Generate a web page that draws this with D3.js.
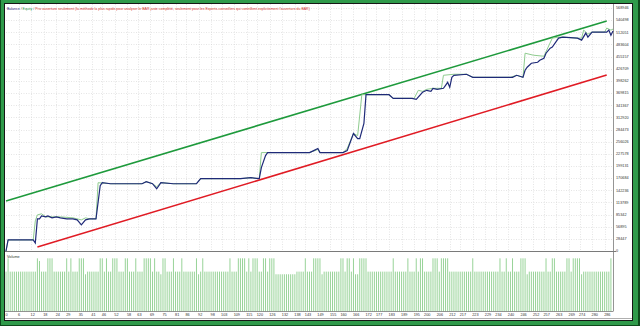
<!DOCTYPE html>
<html>
<head>
<meta charset="utf-8">
<script src="https://cdn.jsdelivr.net/npm/d3@7"></script>
<style>
  html, body { margin: 0; padding: 0; background: #fff; }
  svg { display: block; }
</style>
</head>
<body>
<svg id="chart"></svg>
<script>
// trade number / balance (vertices)
const balanceIdx = [0, 1, 13, 14, 15, 16, 17, 19, 20, 22, 24, 26, 29, 32, 34, 36, 38, 40, 43, 45,
  46, 50, 59, 65, 67, 70, 72, 74, 80, 91, 93, 112, 117, 121, 122, 124, 125, 145, 147, 149,
  150, 161, 163, 166, 168, 169, 171, 172, 183, 185, 194, 196, 199, 201, 203, 204, 206, 209, 210, 211,
  212, 213, 214, 220, 223, 241, 242, 244, 247, 248, 249, 251, 254, 255, 257, 258, 260, 261, 264, 266,
  273, 275, 277, 278, 280, 287, 288, 289, 290]
const balanceVal = [0, 25900, 25900, 18800, 75200, 75200, 82300, 79900, 82300, 77600,
  79900, 77600, 75200, 75200, 72900, 61100, 72900, 75200, 75200, 152800,
  159900, 157500, 157500, 157500, 162200, 157500, 145800, 159900, 157500, 157500,
  169300, 169300, 171600, 169300, 195100, 223300, 230400, 230400, 235100, 239800,
  230400, 230400, 235100, 275100, 263300, 263300, 298600, 366000, 366000, 357400,
  357400, 355000, 371500, 376200, 373800, 380900, 378500, 380900, 387900, 395000,
  383200, 406700, 411400, 413800, 406700, 406700, 406700, 411400, 406700, 423200,
  430200, 439600, 442000, 446700, 451400, 463100, 474900, 477300, 498400, 500800,
  498400, 493700, 510200, 500800, 512500, 512500, 517200, 505000, 514900]

const equityIdx = [0, 1, 13, 14, 15, 17, 19, 22, 26, 32, 36, 38, 40, 43, 44, 50, 65, 67, 70, 72,
  74, 80, 91, 93, 112, 117, 121, 122, 145, 149, 150, 161, 163, 166, 168, 170, 183, 185, 194, 195,
  197, 199, 201, 204, 208, 209, 214, 220, 223, 241, 244, 247, 248, 252, 257, 259, 261, 264, 266, 273,
  275, 276, 278, 280, 286, 287, 289, 290]
const equityVal = [0, 25900, 25900, 70500, 84600, 87000, 79900, 80000, 79900, 77600,
  72900, 77600, 75200, 75200, 159900, 157500, 157500, 162200, 157500, 150500,
  159900, 157500, 157500, 169300, 169300, 171600, 169300, 230400, 230400, 237500,
  230400, 230400, 239800, 275100, 270000, 366000, 366000, 357400, 357400, 357400,
  376200, 373800, 378500, 380900, 380900, 411400, 413800, 413800, 406700, 406700,
  411400, 406700, 463100, 458400, 456000, 477300, 498400, 500800, 500800, 498400,
  498400, 517200, 507800, 512500, 512500, 522000, 517200, 519500]

// channel lines [trade, value]
const upperLine = [[0, 117100], [287, 538500]]
const lowerLine = [[15, 9400], [287, 412000]]

// volume per trade (lots)
const volume = [
  0.15, 0.20, 0.15, 0.15, 0.15, 0.15, 0.15, 0.15, 0.15, 0.15, 0.15, 0.15, 0.15, 0.15, 0.15, 0.20, 0.19, 0.15, 0.15, 0.15,
  0.20, 0.20, 0.20, 0.15, 0.15, 0.15, 0.15, 0.15, 0.15, 0.20, 0.15, 0.20, 0.15, 0.15, 0.15, 0.20, 0.20, 0.20, 0.14, 0.15,
  0.15, 0.15, 0.15, 0.15, 0.15, 0.20, 0.20, 0.15, 0.20, 0.15, 0.15, 0.20, 0.20, 0.20, 0.15, 0.15, 0.15, 0.20, 0.20, 0.15,
  0.15, 0.15, 0.20, 0.15, 0.15, 0.15, 0.20, 0.20, 0.20, 0.20, 0.15, 0.20, 0.15, 0.15, 0.14, 0.20, 0.20, 0.15, 0.15, 0.15,
  0.20, 0.15, 0.15, 0.15, 0.20, 0.15, 0.15, 0.15, 0.15, 0.15, 0.15, 0.20, 0.14, 0.15, 0.20, 0.15, 0.15, 0.15, 0.15, 0.15,
  0.15, 0.15, 0.15, 0.15, 0.15, 0.15, 0.15, 0.20, 0.15, 0.15, 0.15, 0.20, 0.20, 0.20, 0.20, 0.15, 0.20, 0.15, 0.20, 0.20,
  0.20, 0.15, 0.15, 0.20, 0.20, 0.15, 0.20, 0.20, 0.20, 0.14, 0.14, 0.14, 0.14, 0.14, 0.14, 0.14, 0.14, 0.14, 0.14, 0.15,
  0.15, 0.15, 0.15, 0.20, 0.15, 0.15, 0.15, 0.20, 0.20, 0.20, 0.20, 0.14, 0.15, 0.15, 0.15, 0.15, 0.15, 0.15, 0.15, 0.15,
  0.20, 0.20, 0.15, 0.20, 0.20, 0.15, 0.20, 0.14, 0.14, 0.20, 0.20, 0.20, 0.20, 0.15, 0.15, 0.15, 0.15, 0.15, 0.15, 0.15,
  0.15, 0.15, 0.15, 0.15, 0.15, 0.20, 0.15, 0.15, 0.15, 0.15, 0.15, 0.15, 0.20, 0.15, 0.15, 0.15, 0.20, 0.15, 0.20, 0.20,
  0.15, 0.15, 0.15, 0.15, 0.20, 0.20, 0.20, 0.15, 0.20, 0.20, 0.20, 0.20, 0.15, 0.15, 0.15, 0.15, 0.15, 0.15, 0.15, 0.15,
  0.15, 0.15, 0.15, 0.20, 0.15, 0.15, 0.15, 0.15, 0.15, 0.15, 0.15, 0.15, 0.15, 0.15, 0.15, 0.15, 0.20, 0.15, 0.15, 0.20,
  0.15, 0.15, 0.20, 0.15, 0.15, 0.15, 0.20, 0.20, 0.20, 0.14, 0.15, 0.15, 0.15, 0.15, 0.15, 0.15, 0.15, 0.15, 0.20, 0.15,
  0.15, 0.20, 0.20, 0.15, 0.15, 0.15, 0.15, 0.15, 0.20, 0.20, 0.15, 0.20, 0.20, 0.20, 0.20, 0.14, 0.15, 0.15, 0.15, 0.15,
  0.15, 0.15, 0.15, 0.15, 0.15, 0.15, 0.15, 0.15, 0.15, 0.20
]

const xTicks = [0, 6, 12, 18, 24, 29, 35, 41, 46, 52, 58, 63, 69, 75, 81, 86, 92, 98, 103, 109,
  115, 120, 126, 132, 138, 143, 149, 155, 160, 166, 172, 177, 183, 189, 195, 200, 206, 212, 217, 223,
  229, 234, 240, 246, 252, 257, 263, 269, 274, 280, 286]
const yTicks = [0, 28447, 56895, 85342, 113789, 142236, 170684, 199131, 227578, 256026, 284473,
  312920, 341367, 369815, 398262, 426709, 455157, 483604, 512051, 540498, 568946]

const headerParts = [
  ['Balance', 'balance'],
  [' / ', 'sep'],
  ['Equity', 'equity'],
  [' / ', 'sep'],
  ['Prix ouverture seulement (la méthode la plus rapide pour analyser le BAR juste complété, seulement pour les Experts-conseillers qui contrôlent explicitement l\'ouverture du BAR)', 'mode']
]

const color = {
  frameOuter: '#0e4a1c',
  frame: '#2f9a4a',
  frameInner: '#161616',
  grid: '#d4d4d4',
  axis: '#7a7a7a',
  text: '#333',
  balance: '#1f2a78',
  equity: '#8fcc8f',
  upper: '#1e9a3c',
  lower: '#e01b24',
  volume: '#98d398',
  header: { balance: '#1f2a78', sep: '#666', equity: '#2f9a4a', mode: '#d2302a' }
}

const fontFamily = 'Liberation Sans, Arial, sans-serif'
const fontSize = 3.8
const pane = { left: 6, right: 613, top: 4, mainBottom: 251.5, volTop: 253, volBottom: 311.5 }

const svg = d3.select('#chart').attr('width', 640).attr('height', 326)

// window frame
svg.append('rect').attr('width', 640).attr('height', 326).attr('fill', color.frameOuter)
svg.append('rect').attr('x', 1).attr('y', 0).attr('width', 637).attr('height', 325).attr('fill', color.frame)
svg.append('rect').attr('x', 4).attr('y', 3).attr('width', 629).attr('height', 318).attr('fill', color.frameInner)
svg.append('rect').attr('x', 5).attr('y', 4).attr('width', 627).attr('height', 316).attr('fill', '#fff')

const x = d3.scaleLinear().domain([0, 290]).range([pane.left, pane.right])
const y = d3.scaleLinear().domain([0, 568946]).range([251, 8])
const yVol = d3.scaleLinear().domain([0, 0.22]).range([pane.volBottom, pane.volTop])

// grid
const grid = svg.append('g').attr('stroke', color.grid).attr('stroke-width', 0.6).attr('stroke-dasharray', '1,1.5')
grid.selectAll('.hgrid').data(yTicks.slice(1)).enter().append('line')
  .attr('x1', pane.left).attr('x2', pane.right)
  .attr('y1', d => Math.round(y(d)) + 0.5).attr('y2', d => Math.round(y(d)) + 0.5)
grid.selectAll('.vgrid').data(xTicks.slice(1)).enter().append('line')
  .attr('x1', d => Math.round(x(d)) + 0.5).attr('x2', d => Math.round(x(d)) + 0.5)
  .attr('y1', pane.top).attr('y2', pane.mainBottom)

// volume bars
svg.append('g').selectAll('line').data(volume).enter().append('line')
  .attr('x1', (d, i) => x(i)).attr('x2', (d, i) => x(i))
  .attr('y1', yVol(0)).attr('y2', d => yVol(d))
  .attr('stroke', color.volume).attr('stroke-width', 1)

// pane borders
svg.append('line').attr('x1', 5).attr('x2', 616).attr('y1', pane.mainBottom).attr('y2', pane.mainBottom)
  .attr('stroke', color.axis).attr('stroke-width', 1)
svg.append('line').attr('x1', 5).attr('x2', pane.right).attr('y1', pane.volBottom).attr('y2', pane.volBottom)
  .attr('stroke', color.axis).attr('stroke-width', 0.8)
svg.append('line').attr('x1', 5).attr('x2', 632).attr('y1', 318.5).attr('y2', 318.5)
  .attr('stroke', '#9a9a9a').attr('stroke-width', 0.8)
svg.append('line').attr('x1', pane.right + 0.5).attr('x2', pane.right + 0.5).attr('y1', pane.top).attr('y2', pane.volBottom)
  .attr('stroke', color.axis).attr('stroke-width', 0.8)

// channel lines
const line = d3.line().x(d => x(d[0])).y(d => y(d[1]))
svg.append('path').attr('d', line(upperLine)).attr('fill', 'none').attr('stroke', color.upper).attr('stroke-width', 1.6)
svg.append('path').attr('d', line(lowerLine)).attr('fill', 'none').attr('stroke', color.lower).attr('stroke-width', 1.6)

// equity then balance
const equity = equityIdx.map((d, i) => [d, equityVal[i]])
const balance = balanceIdx.map((d, i) => [d, balanceVal[i]])
svg.append('path').attr('d', line(equity)).attr('fill', 'none').attr('stroke', color.equity).attr('stroke-width', 1)
svg.append('path').attr('d', line(balance)).attr('fill', 'none').attr('stroke', color.balance).attr('stroke-width', 1.2)

// y labels
svg.append('g').selectAll('text').data(yTicks).enter().append('text')
  .attr('x', 616).attr('y', d => y(d) + 1.3)
  .attr('font-family', fontFamily).attr('font-size', fontSize)
  .attr('fill', color.text).text(d => d)

// x labels
svg.append('g').selectAll('text').data(xTicks).enter().append('text')
  .attr('x', d => x(d) - 0.5).attr('y', 316.3)
  .attr('font-family', fontFamily).attr('font-size', fontSize)
  .attr('fill', color.text).text(d => d)

// header
const header = svg.append('text').attr('x', 7).attr('y', 10)
  .attr('font-family', fontFamily).attr('font-size', 3.5)
header.selectAll('tspan').data(headerParts).enter().append('tspan')
  .attr('fill', d => color.header[d[1]]).text(d => d[0])

svg.append('text').attr('x', 7).attr('y', 257.5)
  .attr('font-family', fontFamily).attr('font-size', fontSize)
  .attr('fill', color.text).text('Volume')
</script>
</body>
</html>
